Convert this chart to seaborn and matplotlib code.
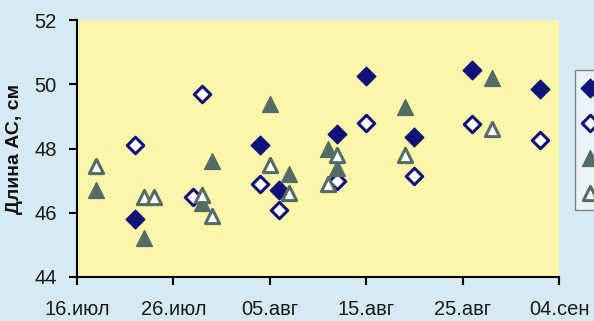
import matplotlib
matplotlib.use("Agg")
import matplotlib.pyplot as plt
import matplotlib.dates as mdates
from matplotlib.ticker import FuncFormatter
import seaborn as sns
import pandas as pd

# values (year is arbitrary)
filled_dia_dates = ["07-22", "08-04", "08-06", "08-12", "08-15", "08-20", "08-26", "09-02"]
filled_dia_vals = [45.8, 48.1, 46.7, 48.45, 50.25, 48.35, 50.45, 49.85]

open_dia_dates = ["07-22", "07-28", "07-29", "08-04", "08-06", "08-12", "08-15", "08-20", "08-26", "09-02"]
open_dia_vals = [48.1, 46.5, 49.7, 46.9, 46.1, 47.0, 48.8, 47.15, 48.75, 48.25]

filled_tri_dates = ["07-18", "07-23", "07-29", "07-30", "08-05", "08-07", "08-11", "08-12", "08-19", "08-28"]
filled_tri_vals = [46.7, 45.2, 46.3, 47.6, 49.4, 47.2, 48.0, 47.4, 49.3, 50.2]

open_tri_dates = ["07-18", "07-23", "07-24", "07-29", "07-30", "08-05", "08-07", "08-11", "08-12", "08-19", "08-28"]
open_tri_vals = [47.45, 46.5, 46.5, 46.55, 45.9, 47.5, 46.6, 46.9, 47.8, 47.8, 48.6]

# legend labels are cut off by the right edge in the reference
series_names = ["", "", "", ""]
tick_dates = ["07-16", "07-26", "08-05", "08-15", "08-25", "09-04"]
y_ticks = [44, 46, 48, 50, 52]
month_names = {7: "июл", 8: "авг", 9: "сен"}
ylabel = "Длина АС, см"

YEAR = "2008-"
NAVY = "#10127a"
GREEN = "#556b66"
BG = "#d6eaf4"
PLOT_BG = "#fbf6aa"


def to_dates(lst):
    return pd.to_datetime([YEAR + d for d in lst])


sns.set_style("white")
plt.rcParams["font.family"] = ["Liberation Sans", "DejaVu Sans"]

fig = plt.figure(figsize=(5.94, 3.21), dpi=100, facecolor=BG)
ax = fig.add_axes([77 / 594, 1 - 277 / 321, (559 - 77) / 594, (277 - 20) / 321])
ax.set_facecolor(PLOT_BG)

sns.scatterplot(x=to_dates(filled_dia_dates), y=filled_dia_vals, ax=ax, marker="D",
                s=90, color=NAVY, edgecolor=NAVY, linewidth=1, label="s1", zorder=3)
sns.scatterplot(x=to_dates(open_dia_dates), y=open_dia_vals, ax=ax, marker="D",
                s=70, color="white", edgecolor=NAVY, linewidth=2.2, label="s2", zorder=3)
sns.scatterplot(x=to_dates(filled_tri_dates), y=filled_tri_vals, ax=ax, marker="^",
                s=130, color=GREEN, edgecolor=GREEN, linewidth=1, label="s3", zorder=3)
sns.scatterplot(x=to_dates(open_tri_dates), y=open_tri_vals, ax=ax, marker="^",
                s=105, color="white", edgecolor=GREEN, linewidth=2.2, label="s4", zorder=3)

ticks = to_dates(tick_dates)
ax.set_xlim(ticks[0], ticks[-1])
ax.set_xticks(ticks)
ax.xaxis.set_major_formatter(FuncFormatter(
    lambda v, p: "{:02d}.{}".format(mdates.num2date(v).day, month_names[mdates.num2date(v).month])))
ax.set_ylim(y_ticks[0], y_ticks[-1])
ax.set_yticks(y_ticks)
ax.set_xlabel("")
ax.set_ylabel(ylabel, fontsize=14, fontweight="bold", color="#111111")
ax.yaxis.set_label_coords(-0.112, 0.5)

for side in ["top", "right"]:
    ax.spines[side].set_visible(False)
for side in ["left", "bottom"]:
    ax.spines[side].set_color("black")
    ax.spines[side].set_linewidth(1.5)
ax.tick_params(axis="both", direction="out", length=5.5, width=1.5, color="black",
               labelsize=14.5, labelcolor="#1a1a1a", left=True, bottom=True)
ax.tick_params(axis="y", pad=9)
ax.tick_params(axis="x", pad=11)

ax.get_legend().remove()
handles, _ = ax.get_legend_handles_labels()
leg = fig.legend(handles, series_names, loc="upper left", bbox_to_anchor=(575 / 594, 1 - 70 / 321),
                 borderaxespad=0, frameon=True, fontsize=12, labelspacing=1.2, borderpad=0.6,
                 handletextpad=4, handlelength=0.6, fancybox=False)
leg.get_frame().set_facecolor("#eef6fa")
leg.get_frame().set_edgecolor("#666666")

fig.savefig("out.png", dpi=100, facecolor=BG)
